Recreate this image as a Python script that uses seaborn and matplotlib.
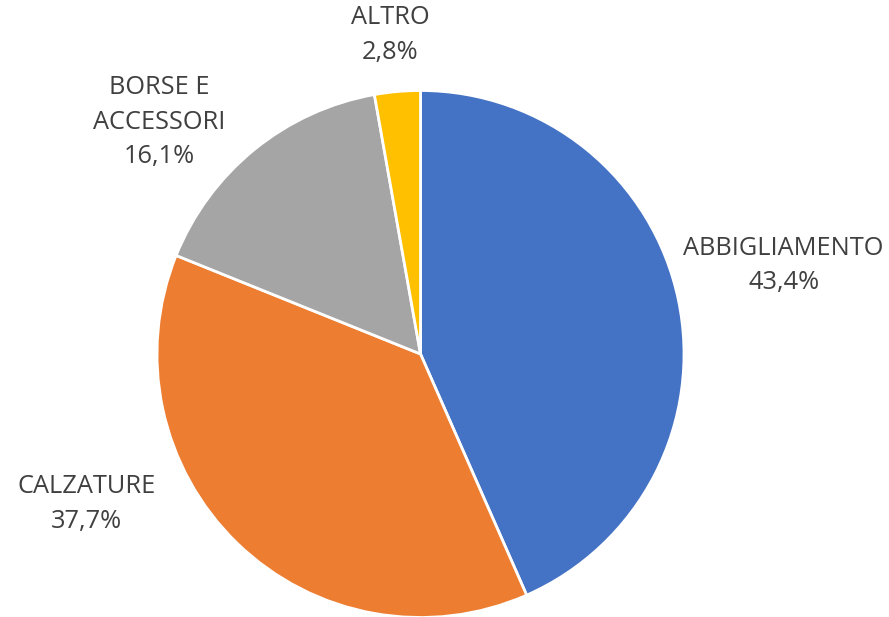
import matplotlib
matplotlib.use("Agg")
import matplotlib.pyplot as plt
import seaborn as sns

# Categories and shares (%)
categories = ["ABBIGLIAMENTO", "CALZATURE", "BORSE E\nACCESSORI", "ALTRO"]
shares = [43.4, 37.7, 16.1, 2.8]
colors = ["#4472C4", "#ED7D31", "#A5A5A5", "#FFC000"]

# label centres in pie-radius units (layout, Excel "best fit" style)
label_pos = [(1.378, 0.335), (-1.268, -0.569), (-0.992, 0.880), (-0.114, 1.211)]

sns.set_theme(style="white")
plt.rcParams["font.family"] = ["Open Sans", "DejaVu Sans"]

fig = plt.figure(figsize=(8.89, 6.17), dpi=100)
ax = fig.add_axes([0, 0, 1, 1])

ax.pie(shares, colors=colors, startangle=90, counterclock=False,
       radius=1.0, wedgeprops=dict(edgecolor="white", linewidth=2))

for cat, val, (x, y) in zip(categories, shares, label_pos):
    txt = f"{cat}\n{val:.1f}%".replace(".", ",")
    ax.text(x, y, txt, ha="center", va="center", fontsize=18.3,
            color="#404040", linespacing=1.5)

ax.set_xlim(-420.5 / 263.5, (889 - 420.5) / 263.5)
ax.set_ylim(-263 / 263.5, 354 / 263.5)
ax.set_aspect("auto")
ax.axis("off")

fig.savefig("out.png", dpi=100, facecolor="white")
